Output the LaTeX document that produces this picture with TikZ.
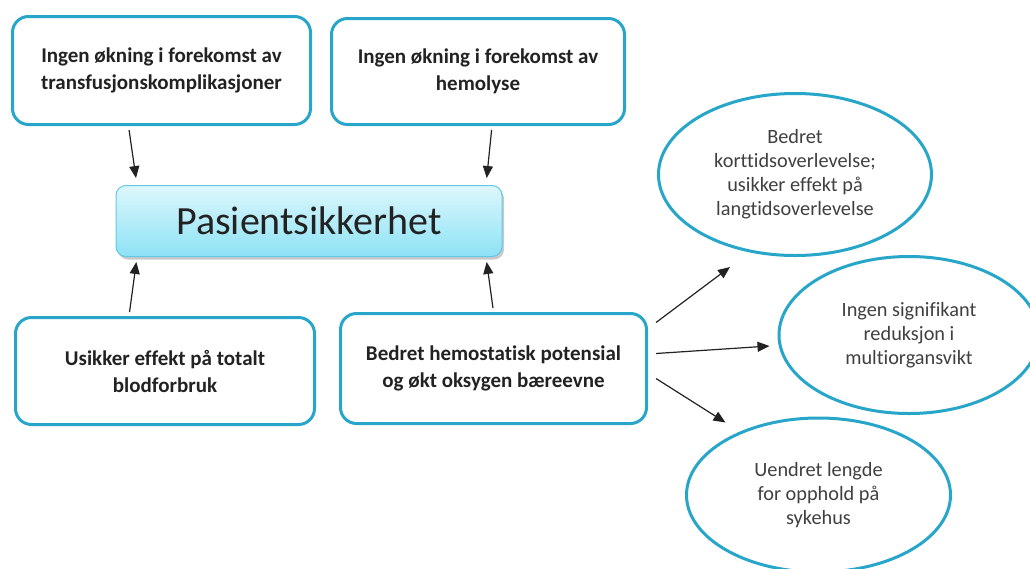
\documentclass[tikz,border=0pt]{standalone}
\usepackage{fontspec}
\setmainfont{Carlito}[Ligatures={NoCommon}]
\usetikzlibrary{arrows.meta,shapes.geometric,shadows}
\definecolor{boxblue}{RGB}{40,166,201}
\definecolor{txtdark}{RGB}{34,34,34}
\definecolor{txtgray}{RGB}{64,64,64}
\definecolor{ctop}{RGB}{222,247,252}
\definecolor{cbot}{RGB}{140,226,245}
\definecolor{cborder}{RGB}{100,200,228}
\tikzset{
  factbox/.style={draw=boxblue, line width=3pt, rounded corners=16pt, fill=white,
    align=center, text=txtdark, font=\fontsize{21}{27}\selectfont\bfseries, inner sep=0pt},
  mainbox/.style={draw=cborder, line width=1pt, rounded corners=10pt, top color=ctop, bottom color=cbot,
    drop shadow={shadow xshift=2pt, shadow yshift=-3pt, opacity=0.35, fill=black!60},
    minimum width=386pt, minimum height=71pt, text=txtdark, font=\fontsize{40}{44}\selectfont},
  outcome/.style={ellipse, draw=boxblue, line width=3pt, fill=white, align=center, inner sep=0pt,
    text=txtgray, font=\fontsize{20.3}{24}\selectfont},
  arr/.style={draw=txtdark, line width=1.2pt, -{Triangle[length=12pt,width=10pt]}}
}
\begin{document}
\begin{tikzpicture}[x=1pt,y=-1pt]
\useasboundingbox (0,0) rectangle (1030,568);
\clip (0,0) rectangle (1030,568);
\fill[white] (0,0) rectangle (1030,568);

\node[factbox, minimum width=298pt, minimum height=108pt] (A) at (161.5,70.5)
  {Ingen økning i forekomst av\\transfusjonskomplikasjoner};
\node[factbox, minimum width=293pt, minimum height=106pt] (B) at (478,71.5)
  {Ingen økning i forekomst av\\hemolyse};
\node[mainbox] (P) at (309,221) {Pasientsikkerhet};
\node[factbox, minimum width=299pt, minimum height=107pt] (C) at (165,371)
  {Usikker effekt på totalt\\blodforbruk};
\node[factbox, minimum width=306pt, minimum height=110pt] (D) at (493.5,368.5)
  {Bedret hemostatisk potensial\\og økt oksygen bæreevne};

\node[outcome, minimum width=273pt, minimum height=162pt] (E1) at (795,174.5)
  {Bedret\\korttidsoverlevelse;\\usikker effekt på\\langtidsoverlevelse};
\node[outcome, minimum width=260pt, minimum height=157pt] (E2) at (909,335)
  {Ingen signifikant\\reduksjon i\\multiorgansvikt};
\node[outcome, minimum width=264pt, minimum height=154pt] (E3) at (818.5,495)
  {Uendret lengde\\for opphold på\\sykehus};

\draw[arr, shorten <=4pt, shorten >=7pt] ([xshift=-33pt]A.south) -- ([xshift=-172pt]P.north);
\draw[arr, shorten <=4pt, shorten >=7pt] ([xshift=14pt]B.south) -- ([xshift=177pt]P.north);
\draw[arr, shorten <=4pt, shorten >=5pt] ([xshift=-36pt]C.north) -- ([xshift=-172pt]P.south);
\draw[arr, shorten <=4pt, shorten >=5pt] ([xshift=0pt]D.north) -- ([xshift=177pt]P.south);

\draw[arr] ([xshift=8pt,yshift=46pt]D.east) -- ([xshift=-65pt,yshift=-10pt]E1.south);
\draw[arr] ([xshift=8pt,yshift=15pt]D.east) -- ([xshift=-8pt,yshift=-11pt]E2.west);
\draw[arr] ([xshift=8pt,yshift=-10pt]D.east) -- ([xshift=-93pt,yshift=-6pt]E3.north);
\end{tikzpicture}
\end{document}
